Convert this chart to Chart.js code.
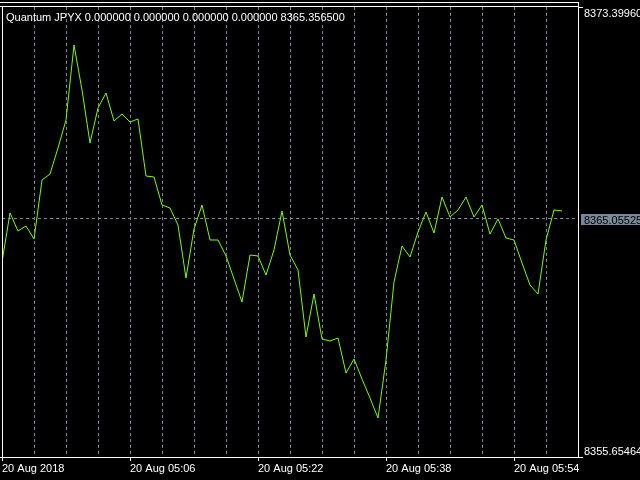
<!DOCTYPE html>
<html><head><meta charset="utf-8">
<script src="https://cdn.jsdelivr.net/npm/chart.js@4/dist/chart.umd.min.js"></script>
<style>html,body{margin:0;padding:0;background:#000;}canvas{display:block;}</style>
</head><body>
<canvas id="c" width="640" height="480"></canvas>
<script>
const times = ['04:50','04:51','04:52','04:53','04:54','04:55','04:56','04:57','04:58','04:59',
  '05:00','05:01','05:02','05:03','05:04','05:05','05:06','05:07','05:08','05:09',
  '05:10','05:11','05:12','05:13','05:14','05:15','05:16','05:17','05:18','05:19',
  '05:20','05:21','05:22','05:23','05:24','05:25','05:26','05:27','05:28','05:29',
  '05:30','05:31','05:32','05:33','05:34','05:35','05:36','05:37','05:38','05:39',
  '05:40','05:41','05:42','05:43','05:44','05:45','05:46','05:47','05:48','05:49',
  '05:50','05:51','05:52','05:53','05:54','05:55','05:56','05:57','05:58','05:59','06:00'];
const values = [8363.344,8365.276,8364.567,8364.764,8364.251,8366.578,8366.814,8367.840,8368.944,8371.901,
  8370.127,8368.037,8369.417,8370.008,8368.904,8369.180,8368.865,8368.983,8366.735,8366.696,
  8365.592,8365.474,8364.803,8362.713,8364.646,8365.592,8364.212,8364.212,8363.581,8362.674,
  8361.767,8363.620,8363.581,8362.832,8363.817,8365.355,8363.620,8363.029,8360.387,8362.082,
  8360.308,8360.229,8360.347,8358.967,8359.519,8358.730,8357.981,8357.193,8359.480,8362.556,
  8363.975,8363.541,8364.527,8365.316,8364.488,8365.907,8365.119,8365.395,8365.907,8365.119,
  8365.592,8364.448,8365.040,8364.290,8364.212,8363.305,8362.437,8362.082,8364.212,8365.395,8365.3565];
const xTickTimes = ['04:50','05:06','05:22','05:38','05:54'];
const xTickLabels = ['20 Aug 2018','20 Aug 05:06','20 Aug 05:22','20 Aug 05:38','20 Aug 05:54'];
const yTickValues = [8355.65464, 8365.05525, 8373.39960];
const yTickLabels = ['8355.65464','8365.05525','8373.39960'];
const headerText = 'Quantum JPYX 0.000000 0.000000 0.000000 0.000000 8365.356500';

const GRID = '#778899';
const TRANSP = 'rgba(0,0,0,0)';
const FONT = '"Liberation Sans", Arial, sans-serif';
const yMin = yTickValues[0], yMid = yTickValues[1], yMax = yTickValues[2];
const xLabelIdx = xTickTimes.map(t => times.indexOf(t));
const xMax = times.length + 1;

const mtPlugin = {
  id: 'mt',
  beforeDraw(chart) {
    const ctx = chart.ctx;
    ctx.save(); ctx.fillStyle = '#000'; ctx.fillRect(0, 0, chart.width, chart.height); ctx.restore();
  },
  afterDraw(chart) {
    const ctx = chart.ctx, a = chart.chartArea, ys = chart.scales.y;
    const R = Math.round(a.right) + 0.5, B = Math.round(a.bottom) + 0.5;
    ctx.save();
    ctx.strokeStyle = '#fff'; ctx.lineWidth = 1;
    ctx.beginPath();
    ctx.moveTo(0, 2.5); ctx.lineTo(R, 2.5);
    ctx.moveTo(0, 6.5); ctx.lineTo(R, 6.5);
    ctx.moveTo(2.5, 6); ctx.lineTo(2.5, B);
    ctx.moveTo(R, 2); ctx.lineTo(R, B);
    ctx.moveTo(0, B); ctx.lineTo(R, B);
    ctx.stroke();
    ctx.font = '11px ' + FONT;
    ctx.textAlign = 'left'; ctx.textBaseline = 'alphabetic';
    ctx.fillStyle = '#fff';
    ctx.fillText(headerText, 6, 21);
    yTickValues.forEach((v, i) => {
      const py = ys.getPixelForValue(v);
      if (v === yMax) { ctx.fillStyle = '#fff'; ctx.fillText(yTickLabels[i], 584, py + 10); }
      else if (v === yMin) { ctx.fillStyle = '#fff'; ctx.fillText(yTickLabels[i], 584, py - 2); }
      else {
        ctx.fillStyle = GRID; ctx.fillRect(581, Math.round(py) - 5, 59, 11);
        ctx.fillStyle = '#000'; ctx.fillText(yTickLabels[i], 584, Math.round(py) + 5);
      }
    });
    ctx.restore();
  }
};

new Chart(document.getElementById('c'), {
  type: 'line',
  data: {
    datasets: [{
      data: values.map((v, i) => ({x: i, y: v})),
      borderColor: '#7CFC00', borderWidth: 1, pointRadius: 0, tension: 0, fill: false
    }]
  },
  options: {
    responsive: false, animation: false, devicePixelRatio: 1,
    layout: {padding: {left: 2, top: 7, right: 0, bottom: 0}},
    plugins: {legend: {display: false}, tooltip: {enabled: false}, title: {display: false}},
    scales: {
      x: {
        type: 'linear', min: 0, max: xMax,
        afterBuildTicks(s) { const t = []; for (let v = 0; v <= xMax; v += 4) t.push({value: v}); s.ticks = t; },
        afterFit(s) { s.height = 23; },
        border: {display: false, dash: [3, 3]},
        grid: {
          color: c => (c.tick && c.tick.value > 0 && c.tick.value < xMax) ? GRID : TRANSP,
          drawTicks: true, tickLength: 4,
          tickColor: c => (c.tick && xLabelIdx.includes(c.tick.value)) ? '#fff' : TRANSP
        },
        ticks: {
          autoSkip: false, maxRotation: 0, minRotation: 0, align: 'start', padding: 1,
          color: '#fff', font: {family: FONT, size: 11},
          callback: v => { const k = xLabelIdx.indexOf(v); return k >= 0 ? xTickLabels[k] : ''; }
        }
      },
      y: {
        type: 'linear', position: 'right', min: yMin, max: yMax,
        afterBuildTicks(s) { s.ticks = yTickValues.map(v => ({value: v})); },
        afterFit(s) { s.width = 62; },
        border: {display: false, dash: [3, 3]},
        grid: {
          color: c => (c.tick && c.tick.value === yMid) ? GRID : TRANSP,
          drawTicks: true, tickLength: 5,
          tickColor: c => (c.tick && c.tick.value !== yMid) ? '#fff' : TRANSP
        },
        ticks: {display: false}
      }
    }
  },
  plugins: [mtPlugin]
});
</script>
</body></html>
